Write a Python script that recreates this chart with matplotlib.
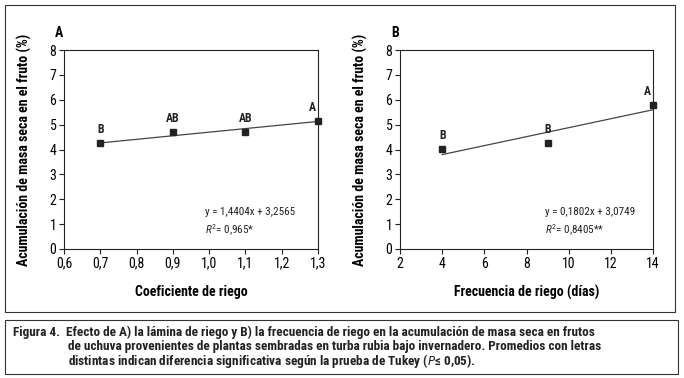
import matplotlib
matplotlib.use("Agg")
import matplotlib.pyplot as plt
from matplotlib.patches import Rectangle
import numpy as np

# --- Daten ----------------------------------------------------------------
coef_x = [0.7, 0.9, 1.1, 1.3]
coef_y = [4.25, 4.70, 4.70, 5.15]
coef_letters = ["B", "AB", "AB", "A"]
coef_slope, coef_icpt = 1.4404, 3.2565
coef_eq = ["y = 1,4404x + 3,2565", r"$R^2$= 0,965*"]
coef_xticks = [0.6, 0.7, 0.8, 0.9, 1.0, 1.1, 1.2, 1.3]

frec_x = [4, 9, 14]
frec_y = [4.02, 4.27, 5.80]
frec_letters = ["B", "B", "A"]
frec_slope, frec_icpt = 0.1802, 3.0749
frec_eq = ["y = 0,1802x + 3,0749", r"$R^2$= 0,8405**"]
frec_xticks = [2, 4, 6, 8, 10, 12, 14]

yticks = [0, 1, 2, 3, 4, 5, 6, 7, 8]
ylabel = "Acumulación de masa seca en el fruto (%)"

caption = [
    ("Figura 4.  Efecto de A) la lámina de riego y B) la frecuencia de riego en la acumulación de masa seca en frutos", 13),
    ("de uchuva provenientes de plantas sembradas en turba rubia bajo invernadero. Promedios con letras", 68),
    ("distintas indican diferencia significativa según la prueba de Tukey ($\\mathit{P}$≤ 0,05).", 68),
]

plt.rcParams["font.family"] = ["Roboto Condensed", "DejaVu Sans"]
plt.rcParams["mathtext.fontset"] = "custom"
plt.rcParams["mathtext.it"] = "Roboto Condensed:italic"
plt.rcParams["mathtext.rm"] = "Roboto Condensed"
plt.rcParams["mathtext.bf"] = "Roboto Condensed:bold"

W, H = 684, 378
fig = plt.figure(figsize=(W / 100, H / 100), dpi=100)


def px(x0, y0, x1, y1):
    return [x0 / W, 1 - y1 / H, (x1 - x0) / W, (y1 - y0) / H]


# Rahmen
fig.patches.append(Rectangle((5 / W, 1 - 312 / H), 670 / W, 307 / H, transform=fig.transFigure,
                             fill=False, lw=0.8, ec="#333333"))
fig.patches.append(Rectangle((5 / W, 1 - 374 / H), 673 / W, 54 / H, transform=fig.transFigure,
                             fill=False, lw=0.8, ec="#333333"))


def panel(rect, x, y, letters, slope, icpt, eq, xticks, xfmt, xlabel, tag, eq_xy):
    ax = fig.add_axes(rect)
    xs = np.array([x[0], x[-1]])
    ax.plot(xs, slope * xs + icpt, color="#444444", lw=0.9, zorder=2)
    ax.plot(x, y, "s", color="#222222", ms=4.5, zorder=3, clip_on=False)
    for i, (xi, yi, lab) in enumerate(zip(x, y, letters)):
        dx = -4 if i == len(x) - 1 else 0
        ax.annotate(lab, (xi, yi), xytext=(dx, 5), textcoords="offset points",
                    ha="center", va="bottom", fontsize=8.5, fontweight="bold", color="#222222")
    ax.set_xlim(xticks[0], xticks[-1])
    ax.set_ylim(0, 8)
    ax.set_xticks(xticks)
    ax.set_xticklabels([xfmt(v) for v in xticks])
    ax.set_yticks(yticks)
    ax.tick_params(labelsize=10, length=3.5, width=0.8, color="#222222", pad=2)
    for s in ax.spines.values():
        s.set_linewidth(0.8)
        s.set_color("#222222")
    ax.set_ylabel(ylabel, fontsize=10, fontweight="bold")
    ax.yaxis.set_label_coords(-0.126, 0.5)
    ax.set_xlabel(xlabel, fontsize=10, fontweight="bold")
    ax.xaxis.set_label_coords(0.5, -0.181)
    ax.text(-0.02, 1.085, tag, transform=ax.transAxes, fontsize=10, fontweight="bold",
            ha="center", va="center")
    ax.text(eq_xy[0], eq_xy[1], eq[0] + "\n" + eq[1], transform=ax.transAxes, fontsize=8,
            ha="left", va="top", linespacing=1.45, color="#222222")
    return ax


panel(px(64, 50, 318, 249), coef_x, coef_y, coef_letters, coef_slope, coef_icpt, coef_eq,
      coef_xticks, lambda v: f"{v:.1f}".replace(".", ","), "Coeficiente de riego", "A", (0.555, 0.21))
panel(px(400, 50, 653, 249), frec_x, frec_y, frec_letters, frec_slope, frec_icpt, frec_eq,
      frec_xticks, lambda v: f"{v:d}", "Frecuencia de riego (días)", "B", (0.575, 0.21))

for (line, x0), yy in zip(caption, [332, 346.5, 361]):
    fig.text(x0 / W, 1 - yy / H, line, fontsize=9.5, fontweight="bold", ha="left", va="center",
             color="#222222")

fig.savefig("out.png", dpi=100)
